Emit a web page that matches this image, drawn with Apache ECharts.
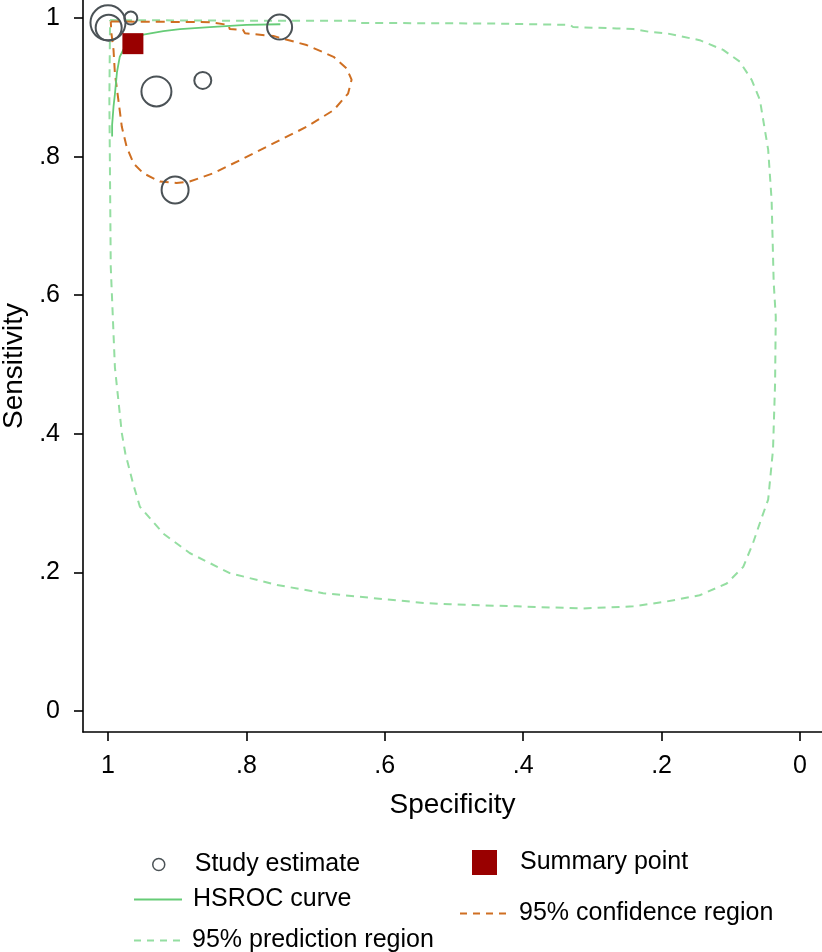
<!DOCTYPE html>
<html>
<head>
<meta charset="utf-8">
<script src="https://cdn.jsdelivr.net/npm/echarts@6/dist/echarts.min.js"></script>
<style>
html,body{margin:0;padding:0;background:#fff;}
#chart{width:822px;height:952px;}
</style>
</head>
<body>
<div id="chart"></div>
<script>
// ---- data ----
var tickValues = [0, 0.2, 0.4, 0.6, 0.8, 1];
var tickLabels = ['0', '.2', '.4', '.6', '.8', '1'];

// study estimates: [specificity, sensitivity]
var studySpec = [1.000, 0.999, 0.967, 0.752, 0.930, 0.863, 0.903];
var studySens = [0.993, 0.986, 1.000, 0.987, 0.894, 0.910, 0.752];
var studyWeight = [35, 26, 13, 25, 30, 17, 27];

var summarySpec = [0.964];
var summarySens = [0.963];

var hsrocSpec = [0.994, 0.994, 0.992, 0.992, 0.990, 0.990, 0.988, 0.987, 0.983, 0.978, 0.968, 0.949, 0.920, 0.896, 0.853, 0.800, 0.751];
var hsrocSens = [0.829, 0.846, 0.848, 0.872, 0.874, 0.890, 0.892, 0.922, 0.944, 0.954, 0.966, 0.976, 0.981, 0.984, 0.987, 0.990, 0.991];

var confSpec = [0.996, 0.853, 0.826, 0.824, 0.805, 0.802, 0.761, 0.713, 0.674, 0.655, 0.648, 0.653, 0.674, 0.713, 0.761, 0.809, 0.848, 0.882, 0.901, 0.925, 0.949, 0.963, 0.973, 0.980, 0.985, 0.990, 0.992, 0.995, 0.996];
var confSens = [0.995, 0.994, 0.990, 0.984, 0.983, 0.978, 0.974, 0.961, 0.944, 0.927, 0.911, 0.891, 0.867, 0.843, 0.819, 0.795, 0.776, 0.764, 0.762, 0.764, 0.776, 0.790, 0.814, 0.843, 0.882, 0.920, 0.954, 0.978, 0.995];

var predSpec = [0.997, 0.795, 0.641, 0.638, 0.438, 0.438, 0.332, 0.328, 0.265, 0.241, 0.217, 0.193, 0.145, 0.111, 0.087, 0.070, 0.058, 0.046, 0.041, 0.038, 0.035, 0.036, 0.039, 0.046, 0.055, 0.068, 0.082, 0.106, 0.145, 0.193, 0.241, 0.313, 0.409, 0.506, 0.544, 0.617, 0.689, 0.756, 0.824, 0.882, 0.920, 0.954, 0.964, 0.975, 0.980, 0.990, 0.996, 0.998, 0.997];
var predSens = [0.997, 0.996, 0.996, 0.993, 0.992, 0.990, 0.990, 0.987, 0.985, 0.984, 0.980, 0.978, 0.968, 0.954, 0.937, 0.911, 0.882, 0.810, 0.737, 0.618, 0.569, 0.473, 0.377, 0.305, 0.280, 0.242, 0.208, 0.184, 0.167, 0.158, 0.151, 0.148, 0.151, 0.154, 0.156, 0.163, 0.170, 0.182, 0.199, 0.228, 0.256, 0.295, 0.329, 0.372, 0.401, 0.496, 0.641, 0.882, 0.997];

function zip(a, b) { return a.map(function (v, i) { return [v, b[i]]; }); }

var FONT = 'Liberation Sans, Arial, Helvetica, sans-serif';
var FS = 25;
var FS_TITLE = 28;
function fmt(v) {
  var i = tickValues.indexOf(Math.round(v * 10) / 10);
  return i >= 0 ? tickLabels[i] : '';
}

var SOLID_ICON = 'path://M0,0H48V2H0Z';
var DASH_ICON = 'path://M0,0H7V2H0Z M13,0H20V2H13Z M26,0H33V2H26Z M39,0H46V2H39Z';

var chart = echarts.init(document.getElementById('chart'), null, { renderer: 'canvas' });

function lt(pad) { return { fontFamily: FONT, fontSize: FS, color: '#000', padding: [0, 0, 0, pad] }; }
var option = {
  animation: false,
  backgroundColor: '#fff',
  grid: { left: 83, right: 0, top: 0, bottom: 220, outerBoundsMode: 'none', containLabel: false },
  xAxis: {
    type: 'value', inverse: true, min: -0.0318, max: 1.0361,
    name: 'Specificity', nameLocation: 'middle', nameGap: 59,
    nameTextStyle: { fontFamily: FONT, fontSize: FS_TITLE, color: '#000' },
    axisLine: { show: true, onZero: false, lineStyle: { color: '#000', width: 1.6 } },
    axisTick: { show: true, length: 9, customValues: tickValues, lineStyle: { color: '#000', width: 1.6 } },
    axisLabel: { customValues: tickValues, formatter: fmt, margin: 22, fontFamily: FONT, fontSize: FS, color: '#000' },
    splitLine: { show: false }
  },
  yAxis: {
    type: 'value', min: -0.0303, max: 1.026,
    name: 'Sensitivity', nameLocation: 'middle', nameGap: 54,
    nameTextStyle: { fontFamily: FONT, fontSize: FS_TITLE, color: '#000' },
    axisLine: { show: true, onZero: false, lineStyle: { color: '#000', width: 1.6 } },
    axisTick: { show: true, length: 9, customValues: tickValues, lineStyle: { color: '#000', width: 1.6 } },
    axisLabel: { customValues: tickValues, formatter: fmt, margin: 23, fontFamily: FONT, fontSize: FS, color: '#000' },
    splitLine: { show: false }
  },
  legend: [
    { data: [{ name: 'Study estimate', icon: 'circle', itemStyle: { color: '#fff', borderColor: '#4b5256', borderWidth: 1.5, opacity: 1 } }],
      left: 152, top: 852, padding: 0, itemWidth: 12, itemHeight: 12, textStyle: lt(25), selectedMode: false },
    { data: [{ name: 'Summary point', icon: 'rect', itemStyle: { color: '#990000', opacity: 1 } }],
      left: 472, top: 850, padding: 0, itemWidth: 25, itemHeight: 25, textStyle: lt(18), selectedMode: false },
    { data: [{ name: 'HSROC curve', icon: SOLID_ICON }],
      left: 134, top: 887, padding: 0, itemWidth: 48, itemHeight: 2, textStyle: lt(6), selectedMode: false },
    { data: [{ name: '95% confidence region', icon: DASH_ICON }],
      left: 460, top: 901, padding: 0, itemWidth: 48, itemHeight: 2, textStyle: lt(7), selectedMode: false },
    { data: [{ name: '95% prediction region', icon: DASH_ICON }],
      left: 134, top: 928, padding: 0, itemWidth: 48, itemHeight: 2, textStyle: lt(6), selectedMode: false }
  ],
  series: [
    {
      name: '95% prediction region', type: 'line', data: zip(predSpec, predSens),
      showSymbol: false, symbol: 'none', smooth: false, z: 2,
      lineStyle: { color: '#94dea1', width: 2, type: [8, 6] }, itemStyle: { color: '#94dea1' }
    },
    {
      name: '95% confidence region', type: 'line', data: zip(confSpec, confSens),
      showSymbol: false, symbol: 'none', smooth: false, z: 3,
      lineStyle: { color: '#cf6f22', width: 2, type: [9, 6] }, itemStyle: { color: '#cf6f22' }
    },
    {
      name: 'HSROC curve', type: 'line', data: zip(hsrocSpec, hsrocSens),
      showSymbol: false, symbol: 'none', smooth: false, z: 4,
      lineStyle: { color: '#66cc77', width: 1.8 }, itemStyle: { color: '#66cc77' }
    },
    {
      name: 'Study estimate', type: 'scatter', z: 5,
      data: studySpec.map(function (s, i) { return [s, studySens[i], studyWeight[i]]; }),
      symbol: 'circle', symbolSize: function (d) { return d[2]; },
      itemStyle: { color: 'rgba(255,255,255,0)', borderColor: '#4b5256', borderWidth: 2, opacity: 1 }
    },
    {
      name: 'Summary point', type: 'scatter', z: 6,
      data: zip(summarySpec, summarySens),
      symbol: 'rect', symbolSize: 21,
      itemStyle: { color: '#990000', opacity: 1 }
    }
  ]
};
chart.setOption(option);
</script>
</body>
</html>
